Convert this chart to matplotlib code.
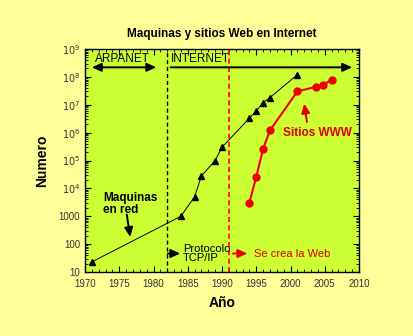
import matplotlib
matplotlib.use("Agg")
import matplotlib.pyplot as plt
from matplotlib.ticker import MultipleLocator, LogLocator, NullFormatter

plt.rcParams['font.family'] = ['Liberation Sans', 'DejaVu Sans']

# Data
hosts_years = [1971, 1984, 1986, 1987, 1989, 1990, 1994, 1995, 1996, 1997, 2001]
hosts_vals = [23, 1000, 5000, 28000, 100000, 300000, 3300000, 6000000, 12000000, 18000000, 120000000]
web_years = [1994, 1995, 1996, 1997, 2001, 2003.7, 2004.8, 2006]
web_vals = [3100, 26000, 260000, 1200000, 30000000, 44000000, 53000000, 78000000]

y_ticks = [10, 100, 1000, 1e4, 1e5, 1e6, 1e7, 1e8, 1e9]
y_labels = ['10', '100', '1000', r'$10^4$', r'$10^5$', r'$10^6$', r'$10^7$', r'$10^8$', r'$10^9$']
x_ticks = [1970, 1975, 1980, 1985, 1990, 1995, 2000, 2005, 2010]

W, H = 414, 336
fig = plt.figure(figsize=(W/100, H/100), dpi=100, facecolor='#FFFF99')
ax = fig.add_axes([85/W, 1-272/H, (359-85)/W, (272-49)/H])
ax.set_facecolor('#CCFF33')

ax.plot(hosts_years, hosts_vals, color='black', lw=0.7, marker='^', ms=4.5, mfc='black', mec='black')
ax.plot(web_years, web_vals, color='#EE0000', lw=1.5, marker='o', ms=5, mfc='#EE0000', mec='#EE0000')

ax.axvline(1982, color='black', ls=(0, (3, 2)), lw=1.0)
ax.axvline(1991, color='#FF0000', ls=(0, (3, 2)), lw=1.2)

ax.set_yscale('log')
ax.set_xlim(1970, 2010)
ax.set_ylim(10, 1e9)
ax.set_yticks(y_ticks)
ax.set_yticklabels(y_labels)
ax.yaxis.set_minor_locator(LogLocator(base=10, subs=range(2, 10), numticks=20))
ax.yaxis.set_minor_formatter(NullFormatter())
ax.set_xticks(x_ticks)
ax.set_xticklabels([str(v) for v in x_ticks])
ax.xaxis.set_minor_locator(MultipleLocator(1))

ax.tick_params(which='both', direction='in', top=True, right=True, labelsize=7, labelcolor='#333333')
ax.tick_params(which='major', length=4, width=0.8)
ax.tick_params(which='minor', length=2, width=0.6)
ax.tick_params(axis='x', pad=5)
for s in ax.spines.values():
    s.set_linewidth(1.0)

ax.set_title('Maquinas y sitios Web en Internet', fontsize=8.5, fontweight='bold', pad=9)
ax.set_xlabel('Año', fontsize=10, fontweight='bold', labelpad=5)
ax.set_ylabel('Numero', fontsize=10, fontweight='bold', labelpad=7)

big = dict(lw=1.4, mutation_scale=10, shrinkA=0, shrinkB=0)
head = ',head_length=0.55,head_width=0.25'

# ARPANET / INTERNET
ax.annotate('', xy=(1971.0, 2.2e8), xytext=(1980.4, 2.2e8),
            arrowprops=dict(arrowstyle='<|-|>' + head, color='black', **big))
ax.text(1975.5, 4.3e8, 'ARPANET', ha='center', va='center', fontsize=8.5)
ax.annotate('', xy=(2009.0, 2.2e8), xytext=(1982.5, 2.2e8),
            arrowprops=dict(arrowstyle='-|>' + head, color='black', **big))
ax.text(1982.5, 4.3e8, 'INTERNET', ha='left', va='center', fontsize=8.5)

# Maquinas en red
ax.text(1972.6, 2800, 'Maquinas\nen red', ha='left', va='center', fontsize=8.5, fontweight='bold',
        linespacing=1.0)
ax.annotate('', xy=(1976.6, 180), xytext=(1976.1, 1150),
            arrowprops=dict(arrowstyle='-|>' + head, color='black', **big))

# Protocolo TCP/IP
ax.annotate('', xy=(1983.9, 46), xytext=(1982.1, 46),
            arrowprops=dict(arrowstyle='-|>' + head, color='black', **big))
ax.text(1984.3, 46, 'Protocolo\nTCP/IP', ha='left', va='center', fontsize=8, linespacing=0.95)

# Se crea la Web
ax.annotate('', xy=(1993.7, 46), xytext=(1991.6, 46),
            arrowprops=dict(arrowstyle='-|>' + head, color='#EE0000', **big))
ax.text(1994.7, 46, 'Se crea la Web', ha='left', va='center', fontsize=8, color='#DD0000')

# Sitios WWW
ax.text(1998.9, 1.0e6, 'Sitios WWW', ha='left', va='center', fontsize=8.5, fontweight='bold', color='#DD0000')
ax.annotate('', xy=(2002.0, 1.1e7), xytext=(2002.4, 2.4e6),
            arrowprops=dict(arrowstyle='-|>' + head, color='#DD0000', **big))

fig.savefig('out.png', dpi=100, facecolor=fig.get_facecolor())
